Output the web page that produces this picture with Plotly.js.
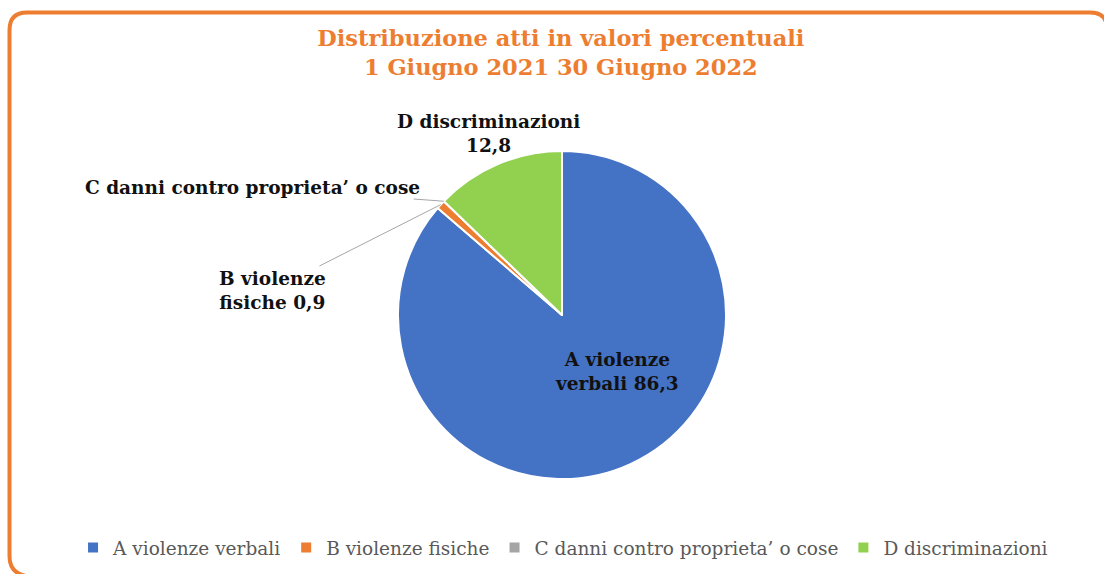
<!DOCTYPE html>
<html><head><meta charset="utf-8">
<script src="https://cdn.plot.ly/plotly-3.0.1.min.js"></script>
<style>html,body{margin:0;padding:0;background:#fff}#c{width:1104px;height:574px}</style>
</head><body><div id="c"></div>
<script>
const categories = ["A violenze verbali", "B violenze fisiche", "C danni contro proprieta’ o cose", "D discriminazioni"];
const values = [86.3, 0.9, 0, 12.8];
const sliceLabels = ["A violenze<br>verbali %{value:.1f}", "B violenze<br>fisiche %{value:.1f}", "C danni contro proprieta’ o cose", "D discriminazioni<br>%{value:.1f}"];
const colors = ["#4472C4", "#ED7D31", "#A5A5A5", "#92D050"];
const titleLines = ["Distribuzione atti in valori percentuali", "1 Giugno 2021 30 Giugno 2022"];

const W = 1104, H = 574;
const serif = "'DejaVu Serif', 'Liberation Serif', serif";
const fx = px => px / W, fy = py => 1 - py / H;
const pieCx = 562, pieCy = 315, pieR = 164;
const dom = {x: [fx(pieCx - pieR - 40), fx(pieCx + pieR + 40)], y: [fy(pieCy + pieR), fy(pieCy - pieR)]};

const total = values.reduce((a, b) => a + b, 0);
function edgePoint(i) {
  let before = 0;
  for (let k = 0; k < i; k++) before += values[k];
  const ang = (before + values[i] / 2) / total * 2 * Math.PI; // clockwise from top
  return {x: fx(pieCx + pieR * Math.sin(ang)), y: fy(pieCy - pieR * Math.cos(ang))};
}
function fmt(i) { return sliceLabels[i].replace("%{value:.1f}", values[i].toFixed(1).replace(".", ",")); }

const trace = {
  type: "pie",
  labels: categories,
  values: values,
  sort: false,
  direction: "clockwise",
  rotation: 0,
  marker: {colors: colors, line: {color: "#ffffff", width: 2}},
  textinfo: "none",
  domain: dom,
  hoverinfo: "label+value",
  showlegend: true
};

const labelFont = {family: serif, size: 18.5, color: "#111", weight: "bold"};
// label placement (pixels): [label centre x, label centre y, leader line?]
const labelPos = [[617, 371, false], [272, 290, true], [252, 187, true], [488, 134, false]];
const annotations = labelPos.map((lp, i) => {
  const base = {xref: "paper", yref: "paper", text: fmt(i), font: labelFont, align: "center"};
  if (lp[2]) {
    const p = edgePoint(i);
    return Object.assign(base, {x: p.x, y: p.y, showarrow: true, arrowhead: 0, arrowwidth: 1,
      arrowcolor: "#A6A6A6", ax: lp[0] - p.x * W, ay: lp[1] - (1 - p.y) * H});
  }
  return Object.assign(base, {x: fx(lp[0]), y: fy(lp[1]), xanchor: "center", yanchor: "middle", showarrow: false});
});

const frame = `M ${fx(26)} ${fy(576)} Q ${fx(9.5)} ${fy(573)} ${fx(9.5)} ${fy(556)} L ${fx(9.5)} ${fy(30)} Q ${fx(9.5)} ${fy(12.5)} ${fx(27)} ${fy(12.5)} L ${fx(1090)} ${fy(12.5)} Q ${fx(1103)} ${fy(12.5)} ${fx(1106)} ${fy(22)}`;

const layout = {
  width: W, height: H,
  margin: {l: 0, r: 0, t: 0, b: 0},
  paper_bgcolor: "#fff",
  separators: ", ",
  title: {text: "<b>" + titleLines.join("<br>") + "</b>",
          font: {family: serif, size: 22.5, color: "#ED7D31"}, x: 0.508, xanchor: "center", y: fy(46), yanchor: "middle"},
  legend: {orientation: "h", x: 0.51, xanchor: "center", y: fy(548), yanchor: "middle",
           font: {family: serif, size: 18.5, color: "#595959"}, traceorder: "normal", itemwidth: 30},
  annotations: annotations,
  shapes: [
    {type: "path", xref: "paper", yref: "paper", layer: "below", path: frame, line: {color: "#ED7D31", width: 4}}
  ],
};
Plotly.newPlot("c", [trace], layout, {displayModeBar: false, staticPlot: true});
</script></body></html>
